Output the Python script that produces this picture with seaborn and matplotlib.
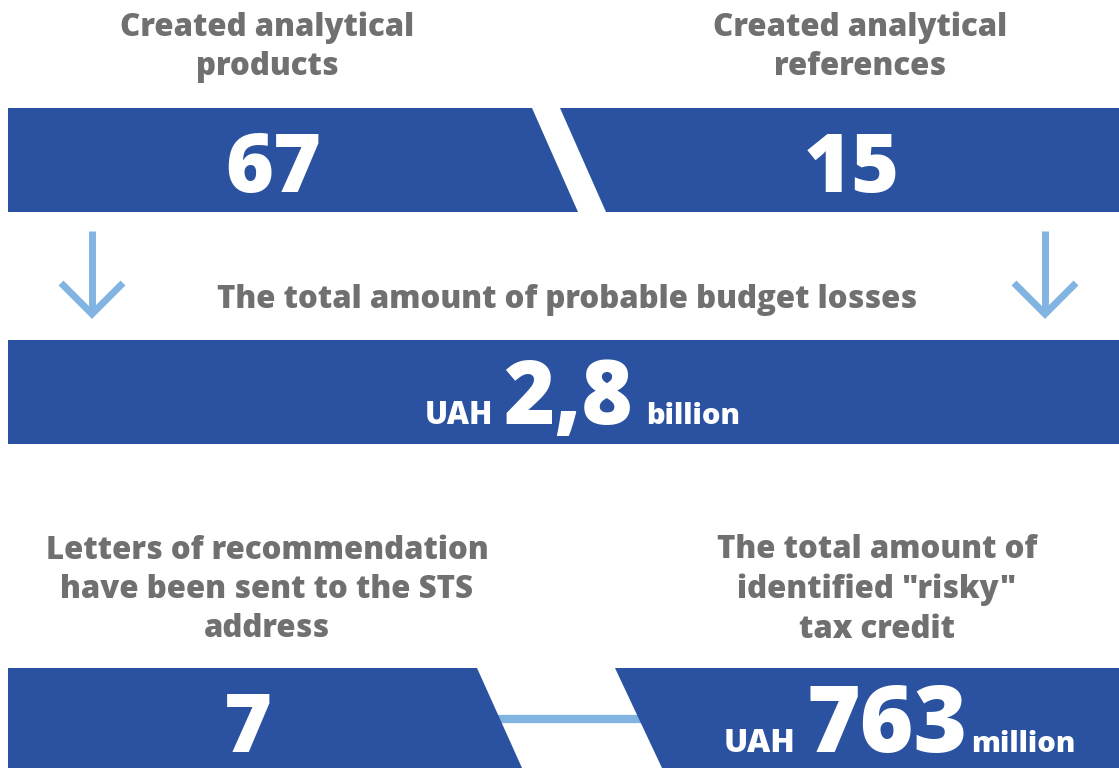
import seaborn as sns
import matplotlib.pyplot as plt
from matplotlib.patches import Polygon

sns.set_theme(style="white")
plt.rcParams['font.family'] = ['Open Sans', 'DejaVu Sans']

# data
top_labels = ["Created analytical\nproducts", "Created analytical\nreferences"]
top_values = ["67", "15"]
mid_label = "The total amount of probable budget losses"
mid_value = ("UAH", "2,8", "billion")
bottom_labels = ["Letters of recommendation\nhave been sent to the STS\naddress",
                 "The total amount of\nidentified \"risky\"\ntax credit"]
bottom_values = [("", "7", ""), ("UAH", "763", "million")]

blue = '#2B52A0'
light = '#82B4E1'
grey = '#707070'

W, H = 1119, 768
fig = plt.figure(figsize=(W / 100, H / 100), dpi=100)
ax = fig.add_axes([0, 0, 1, 1])
ax.set_xlim(0, W)
ax.set_ylim(H, 0)
ax.axis('off')

def box(pts):
    ax.add_patch(Polygon(pts, closed=True, facecolor=blue, edgecolor='none'))

# top boxes with slash
box([(8, 108), (532, 108), (578, 212), (8, 212)])
box([(560, 108), (W, 108), (W, 212), (606, 212)])
# middle box
box([(8, 340), (W, 340), (W, 444), (8, 444)])
# bottom boxes + connector
ax.plot([495, 645], [719, 719], color=light, lw=6, solid_capstyle='butt', zorder=1)
box([(8, 668), (477, 668), (522, 768), (8, 768)])
box([(615, 668), (W, 668), (W, 768), (662, 768)])

# arrows
for x in (92, 1045):
    ax.plot([x, x], [231, 314], color=light, lw=5, solid_capstyle='butt')
    ax.plot([x - 31, x, x + 31], [283, 314, 283], color=light, lw=5,
            solid_joinstyle='miter', solid_capstyle='butt')

hdr = dict(color=grey, fontsize=22.5, fontweight='heavy', ha='center', va='center',
           linespacing=1.3)
for lab, x in zip(top_labels, (267, 860)):
    ax.text(x, 47, lab, **hdr)
ax.text(567, 300, mid_label, **hdr)
for lab, x in zip(bottom_labels, (267, 877)):
    ax.text(x, 590, lab, **hdr)

big = dict(color='white', fontweight='heavy', va='baseline')
for v, x in zip(top_values, (273, 852)):
    ax.text(x, 192, v, fontsize=59, ha='center', **big)

# middle value
ax.text(425, 424, mid_value[0], fontsize=22, ha='left', **big)
ax.text(503, 424, mid_value[1], fontsize=63, ha='left', **big)
ax.text(646, 424, mid_value[2], fontsize=21, ha='left', **big)

# bottom values
ax.text(248, 752, bottom_values[0][1], fontsize=59, ha='center', **big)
ax.text(724, 752, bottom_values[1][0], fontsize=23, ha='left', **big)
ax.text(806, 752, bottom_values[1][1], fontsize=66, ha='left', **big)
ax.text(971, 752, bottom_values[1][2], fontsize=21, ha='left', **big)

fig.savefig('out.png', dpi=100)
